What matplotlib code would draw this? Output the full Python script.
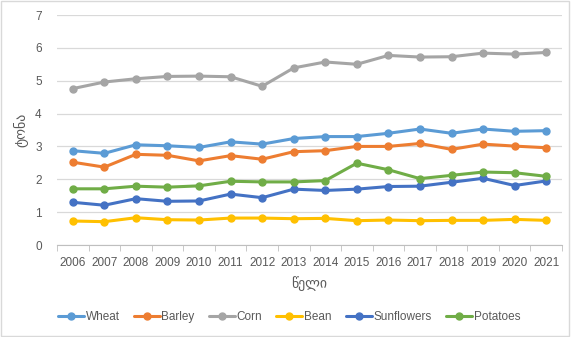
import matplotlib
matplotlib.use("Agg")
import matplotlib.pyplot as plt
from matplotlib.patches import Rectangle

plt.rcParams['font.family'] = ['Liberation Sans', 'DejaVu Sans']

# data
years = list(range(2006, 2022))
wheat = [2.87, 2.79, 3.05, 3.02, 2.97, 3.14, 3.07, 3.24, 3.30, 3.30, 3.40, 3.53, 3.40, 3.53, 3.46, 3.48]
barley = [2.52, 2.37, 2.76, 2.73, 2.56, 2.72, 2.61, 2.84, 2.87, 3.00, 3.00, 3.09, 2.91, 3.07, 3.01, 2.96]
corn = [4.76, 4.96, 5.06, 5.13, 5.14, 5.12, 4.83, 5.39, 5.57, 5.50, 5.77, 5.72, 5.73, 5.84, 5.81, 5.86]
bean = [0.73, 0.71, 0.83, 0.77, 0.76, 0.82, 0.82, 0.80, 0.81, 0.74, 0.76, 0.74, 0.75, 0.75, 0.78, 0.75]
sunflowers = [1.30, 1.21, 1.41, 1.33, 1.34, 1.55, 1.44, 1.70, 1.66, 1.70, 1.78, 1.79, 1.91, 2.03, 1.81, 1.95]
potatoes = [1.71, 1.71, 1.79, 1.76, 1.80, 1.94, 1.92, 1.92, 1.96, 2.49, 2.29, 2.02, 2.12, 2.22, 2.20, 2.09]

series = [("Wheat", wheat, "#5B9BD5"),
          ("Barley", barley, "#ED7D31"),
          ("Corn", corn, "#A5A5A5"),
          ("Bean", bean, "#FFC000"),
          ("Sunflowers", sunflowers, "#4472C4"),
          ("Potatoes", potatoes, "#70AD47")]

text_col = "#595959"

fig = plt.figure(figsize=(5.71, 3.37), dpi=100)
ax = fig.add_axes([57 / 571, 1 - 245 / 337, (562 - 57) / 571, (245 - 15) / 337])

for name, vals, col in series:
    ax.plot(years, vals, color=col, lw=2.2, marker="o", markersize=5, label=name,
            solid_capstyle="round")

ax.set_xlim(years[0] - 0.5, years[-1] + 0.5)
ax.set_ylim(0, 7)
ax.set_yticks(range(0, 8))
ax.set_xticks(years)
ax.set_xticks([y - 0.5 for y in years] + [years[-1] + 0.5], minor=True)
ax.tick_params(axis="x", which="major", length=0, pad=9, labelsize=8.5, labelcolor=text_col)
ax.tick_params(axis="x", which="minor", length=4, color="#BFBFBF")
ax.tick_params(axis="y", length=0, pad=11, labelsize=8.5, labelcolor=text_col)
ax.grid(axis="y", color="#D9D9D9", lw=0.9)
ax.set_axisbelow(True)
for s in ["top", "right", "left"]:
    ax.spines[s].set_visible(False)
ax.spines["bottom"].set_color("#BFBFBF")

ax.set_xlabel("წელი", fontsize=10, color=text_col, labelpad=5)
ax.set_ylabel("ტონა", fontsize=10, color=text_col, labelpad=5)

fig.legend(loc="center", bbox_to_anchor=(0.506, 1 - 317 / 337), ncol=6, frameon=False,
           fontsize=8.5, handlelength=2.2, columnspacing=1.2, handletextpad=0.15,
           labelcolor=text_col)

# chart area border
fig.patches.append(Rectangle((0.002, 0.003), 0.995, 0.994, transform=fig.transFigure,
                             fill=False, edgecolor="#D9D9D9", lw=1))

fig.savefig("out.png", dpi=100)
